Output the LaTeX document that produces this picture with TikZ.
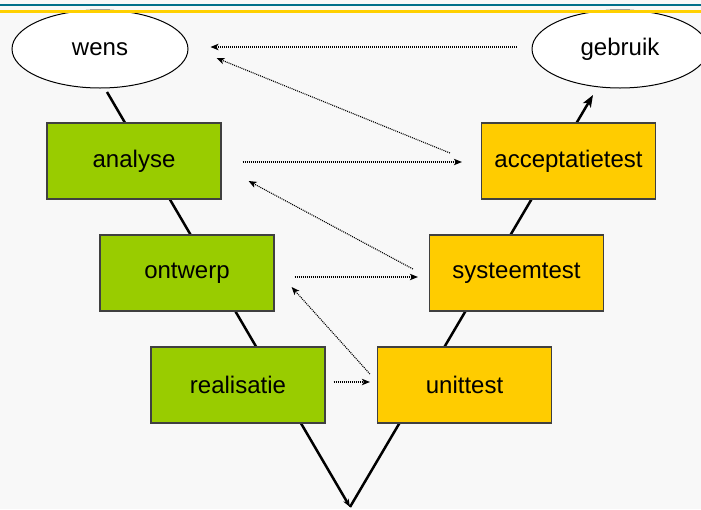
\documentclass[tikz,border=0pt]{standalone}
\usepackage{fontspec}
\setmainfont{Liberation Sans}
\usetikzlibrary{arrows.meta,shapes.geometric}
\definecolor{vgreen}{RGB}{153,204,0}
\definecolor{vyellow}{RGB}{255,204,0}
\definecolor{vteal}{RGB}{0,112,138}
\definecolor{vgold}{RGB}{255,208,0}
\definecolor{vback}{RGB}{248,248,248}

\begin{document}
\begin{tikzpicture}[x=0.5pt, y=-0.5pt,
		phase/.style={draw=black!75, line width=0.6pt, minimum width=87pt, minimum height=38pt, inner sep=0pt, font=\fontsize{12}{14}\selectfont},
		devbox/.style={phase, fill=vgreen},
		testbox/.style={phase, fill=vyellow},
		endpoint/.style={ellipse, draw, fill=white, line width=0.5pt, minimum width=88pt, minimum height=39pt, inner sep=0pt, font=\fontsize{12}{14}\selectfont},
		vline/.style={line width=1.25pt},
		dotarrow/.style={line width=0.55pt, dash pattern=on 0.5pt off 0.5pt, -{Stealth[length=4pt,width=3.2pt,inset=1pt]}}]
			%%%%% START %%%%%
			
			\useasboundingbox[fill=vback] (0, 0) rectangle (701, 509);
			
			\coordinate (vl) at (107, 92);
			\coordinate (vb) at (350, 507);
			\coordinate (vr) at (593, 95);
			\draw[vline, -{Stealth[length=4pt,width=3pt]}] (vl) -- (vb);
			\draw[vline, -{Stealth[length=6pt,width=4.5pt,inset=1.5pt]}] (vb) -- (vr);
			
			\node[endpoint] (wens) at (100, 49) {wens};
			\node[endpoint] (gebruik) at (620, 49) {gebruik};
			
			\node[devbox] (analyse) at (134, 161) {analyse};
			\node[devbox] (ontwerp) at (187, 273) {ontwerp};
			\node[devbox] (realisatie) at (238, 385) {realisatie};
			
			\node[testbox] (acceptatietest) at (568.5, 161) {acceptatietest};
			\node[testbox] (systeemtest) at (516.5, 273) {systeemtest};
			\node[testbox] (unittest) at (464.5, 385) {unittest};
			
			\draw[dotarrow] ([shift={(-15,-2)}]gebruik.west) -- ([shift={(22,-2)}]wens.east);
			\draw[dotarrow] ([shift={(-31,-8)}]acceptatietest.west) -- ([shift={(28,9)}]wens.east);
			\draw[dotarrow] ([shift={(21,1)}]analyse.east) -- ([shift={(-19,1)}]acceptatietest.west);
			\draw[dotarrow] ([shift={(-16,-4)}]systeemtest.west) -- ([shift={(27,20)}]analyse.east);
			\draw[dotarrow] ([shift={(20,4)}]ontwerp.east) -- ([shift={(-11,4)}]systeemtest.west);
			\draw[dotarrow] ([shift={(-7,-11)}]unittest.west) -- ([shift={(17,14)}]ontwerp.east);
			\draw[dotarrow] ([shift={(8,-3)}]realisatie.east) -- ([shift={(-7,-3)}]unittest.west);
			
			\draw[line width=1.1pt, color=vteal] (0, 5) -- (701, 5);
			\draw[line width=1.1pt, color=vgold] (0, 11.5) -- (701, 11.5);
			
			%%%%% END %%%%%
		\end{tikzpicture}
\end{document}
